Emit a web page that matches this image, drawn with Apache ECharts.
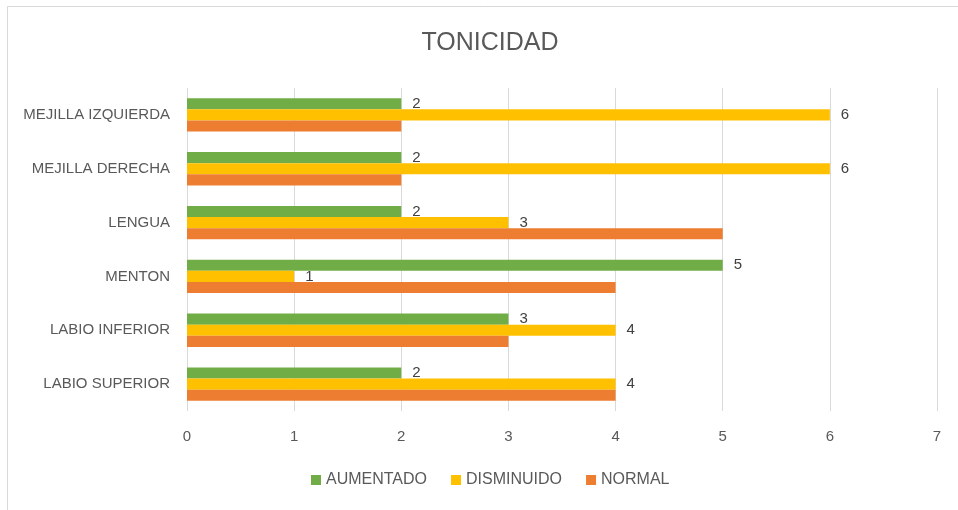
<!DOCTYPE html>
<html>
<head>
<meta charset="utf-8">
<title>TONICIDAD</title>
<script src="https://cdn.jsdelivr.net/npm/echarts@6/dist/echarts.min.js"></script>
<style>
  html, body { margin: 0; padding: 0; background: #fff; }
  #main { width: 958px; height: 510px; }
</style>
</head>
<body>
<div id="main"></div>
<script>
    // categorias (de abajo hacia arriba, como en el eje Y)
    var categorias = ['LABIO SUPERIOR', 'LABIO INFERIOR', 'MENTON', 'LENGUA', 'MEJILLA DERECHA', 'MEJILLA IZQUIERDA'];
    var aumentado  = [2, 3, 5, 2, 2, 2];
    var disminuido = [4, 4, 1, 3, 6, 6];
    var normal     = [4, 3, 4, 5, 2, 2];
    var ticksX     = [0, 7, 1];   // min, max, intervalo

    var gris = '#595959';

    var myChart = echarts.init(document.getElementById('main'));

    var option = {
        animation: false,
        backgroundColor: '#fff',
        title: {
            text: 'TONICIDAD',
            left: 485,
            top: 26,
            textAlign: 'center',
            textStyle: {
                fontFamily: 'Liberation Sans',
                fontSize: 25,
                fontWeight: 'normal',
                color: gris
            }
        },
        // marco del grafico
        graphic: [{
            type: 'rect',
            shape: { x: 7.5, y: 6.5, width: 1000, height: 600 },
            style: { fill: 'none', stroke: '#d9d9d9', lineWidth: 1 },
            silent: true
        }],
        legend: {
            data: ['AUMENTADO', 'DISMINUIDO', 'NORMAL'],
            left: 311,
            top: 472,
            icon: 'rect',
            itemWidth: 10,
            itemHeight: 10,
            itemGap: 24,
            padding: 0,
            textStyle: {
                fontFamily: 'Liberation Sans',
                fontSize: 16,
                color: gris
            }
        },
        grid: {
            left: 187,
            right: 21,
            top: 88,
            bottom: 99,
            containLabel: false
        },
        xAxis: {
            type: 'value',
            min: ticksX[0],
            max: ticksX[1],
            interval: ticksX[2],
            axisLine: { show: false },
            axisTick: { show: false },
            axisLabel: {
                margin: 18,
                fontFamily: 'Liberation Sans',
                fontSize: 15,
                color: gris
            },
            splitLine: {
                show: true,
                lineStyle: { color: '#d9d9d9', width: 1 }
            }
        },
        yAxis: {
            type: 'category',
            data: categorias,
            axisLine: { show: false },
            axisTick: { show: false },
            axisLabel: {
                margin: 17,
                fontFamily: 'Liberation Sans',
                fontSize: 15,
                color: gris
            }
        },
        series: [
            {
                name: 'AUMENTADO',
                type: 'bar',
                data: aumentado,
                barGap: '0%',
                barCategoryGap: '38%',
                itemStyle: { color: '#70AD47' },
                label: {
                    show: true,
                    position: 'right',
                    distance: 11,
                    fontFamily: 'Liberation Sans',
                    fontSize: 15,
                    color: '#404040'
                }
            },
            {
                name: 'DISMINUIDO',
                type: 'bar',
                data: disminuido,
                barGap: '0%',
                barCategoryGap: '38%',
                itemStyle: { color: '#FFC000' },
                label: {
                    show: true,
                    position: 'right',
                    distance: 11,
                    fontFamily: 'Liberation Sans',
                    fontSize: 15,
                    color: '#404040'
                }
            },
            {
                name: 'NORMAL',
                type: 'bar',
                data: normal,
                barGap: '0%',
                barCategoryGap: '38%',
                itemStyle: { color: '#ED7D31' }
            }
        ]
    };

    myChart.setOption(option);
</script>
</body>
</html>
